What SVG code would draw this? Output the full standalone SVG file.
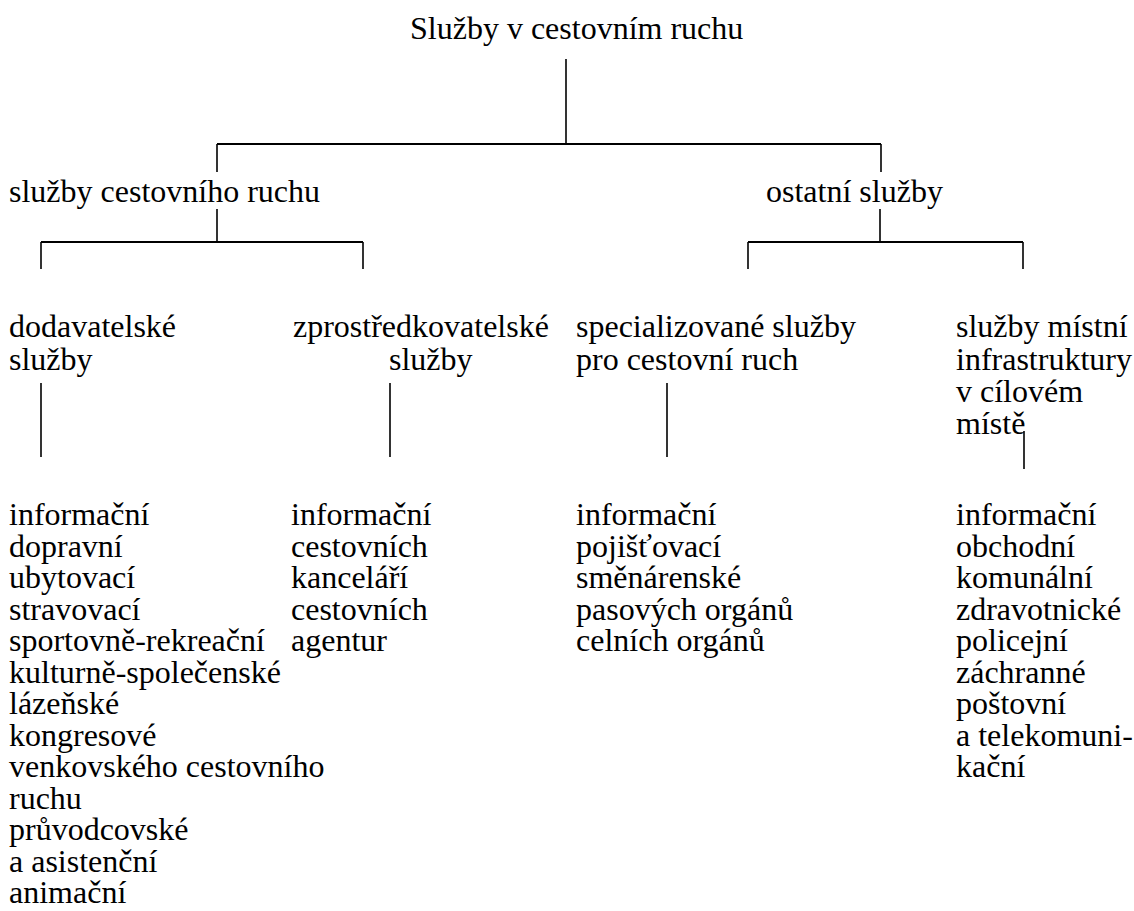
<svg xmlns="http://www.w3.org/2000/svg" width="1134" height="911" viewBox="0 0 1134 911">
<style>
.t { font-family: 'Liberation Serif', 'Times New Roman', Times, serif; font-size: 32px; fill: #000; }
.h { stroke: #000; stroke-width: 2; fill: none; }
.v { stroke: #000; stroke-width: 1.6; fill: none; }
</style>
<rect width="1134" height="911" fill="#fff"/>
<g id="connectors">
  <line class="v" x1="566" y1="59" x2="566" y2="144"/>
  <line class="h" x1="217" y1="144" x2="881" y2="144"/>
  <line class="v" x1="217" y1="144" x2="217" y2="172"/>
  <line class="v" x1="881" y1="144" x2="881" y2="172"/>
  <line class="v" x1="217" y1="209" x2="217" y2="242"/>
  <line class="v" x1="880" y1="209" x2="880" y2="242"/>
  <line class="h" x1="41" y1="242" x2="363" y2="242"/>
  <line class="h" x1="748" y1="242" x2="1023" y2="242"/>
  <line class="v" x1="41" y1="242" x2="41" y2="269"/>
  <line class="v" x1="363" y1="242" x2="363" y2="269"/>
  <line class="v" x1="748" y1="242" x2="748" y2="269"/>
  <line class="v" x1="1023" y1="242" x2="1023" y2="269"/>
  <line class="v" x1="41" y1="383" x2="41" y2="457"/>
  <line class="v" x1="390" y1="383" x2="390" y2="457"/>
  <line class="v" x1="667" y1="383" x2="667" y2="457"/>
  <line class="v" x1="1024" y1="431" x2="1024" y2="469"/>
</g>
<g class="t" font-family="Liberation Serif, serif">
<g id="root"><text x="410" y="39">Služby v cestovním ruchu</text></g>
<g id="sluzby-cr"><text x="9" y="202">služby cestovního ruchu</text></g>
<g id="ostatni"><text x="766" y="202">ostatní služby</text></g>
<g id="dodavatelske">
  <text x="9" y="337">dodavatelské</text>
  <text x="9" y="370">služby</text>
</g>
<g id="zprostredkovatelske">
  <text x="293" y="337">zprostředkovatelské</text>
  <text x="389" y="370">služby</text>
</g>
<g id="specializovane">
  <text x="576" y="337">specializované služby</text>
  <text x="576" y="370">pro cestovní ruch</text>
</g>
<g id="mistni">
  <text x="956" y="337">služby místní</text>
  <text x="956" y="370">infrastruktury</text>
  <text x="956" y="402">v cílovém</text>
  <text x="956" y="434">místě</text>
</g>
<g id="list-dodavatelske">
  <text x="9" y="525">informační</text>
  <text x="9" y="556.5">dopravní</text>
  <text x="9" y="588">ubytovací</text>
  <text x="9" y="619.5">stravovací</text>
  <text x="9" y="651">sportovně-rekreační</text>
  <text x="9" y="682.5">kulturně-společenské</text>
  <text x="9" y="714">lázeňské</text>
  <text x="9" y="745.5">kongresové</text>
  <text x="9" y="777">venkovského cestovního</text>
  <text x="9" y="808.5">ruchu</text>
  <text x="9" y="840">průvodcovské</text>
  <text x="9" y="871.5">a asistenční</text>
  <text x="9" y="903">animační</text>
</g>
<g id="list-zprostredkovatelske">
  <text x="291" y="525">informační</text>
  <text x="291" y="556.5">cestovních</text>
  <text x="291" y="588">kanceláří</text>
  <text x="291" y="619.5">cestovních</text>
  <text x="291" y="651">agentur</text>
</g>
<g id="list-specializovane">
  <text x="576" y="525">informační</text>
  <text x="576" y="556.5">pojišťovací</text>
  <text x="576" y="588">směnárenské</text>
  <text x="576" y="619.5">pasových orgánů</text>
  <text x="576" y="651">celních orgánů</text>
</g>
<g id="list-mistni">
  <text x="956" y="525">informační</text>
  <text x="956" y="556.5">obchodní</text>
  <text x="956" y="588">komunální</text>
  <text x="956" y="619.5">zdravotnické</text>
  <text x="956" y="651">policejní</text>
  <text x="956" y="682.5">záchranné</text>
  <text x="956" y="714">poštovní</text>
  <text x="956" y="745.5">a telekomuni-</text>
  <text x="956" y="777">kační</text>
</g>
</g>
</svg>
